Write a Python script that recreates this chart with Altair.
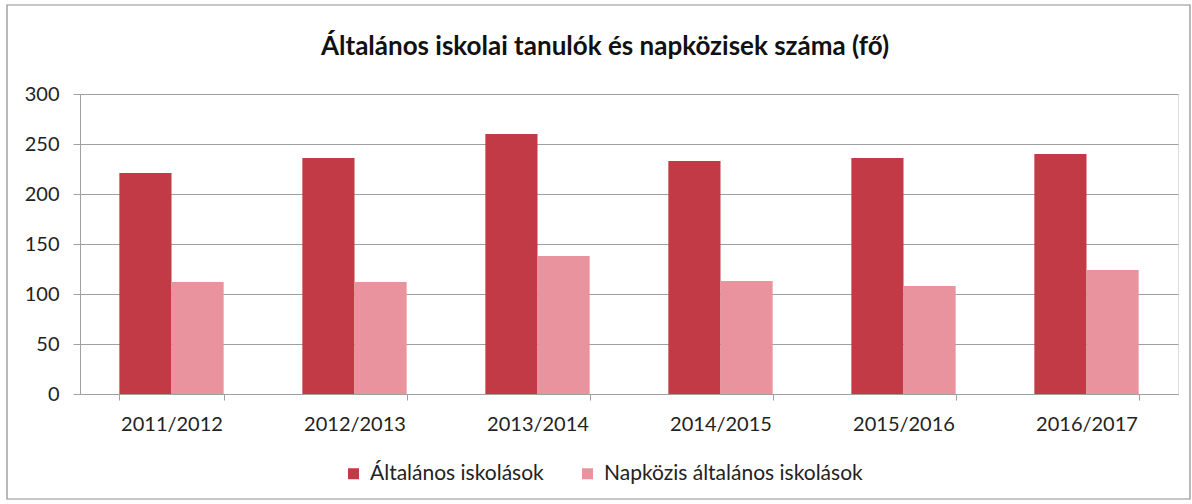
import altair as alt
import pandas as pd

seasons = ["2011/2012", "2012/2013", "2013/2014", "2014/2015", "2015/2016", "2016/2017"]
series = ["Általános iskolások", "Napközis általános iskolások"]
altalanos = [221, 236, 260, 233, 236, 240]
napkozis = [112, 112, 138, 113, 108, 124]
colors = ["#C23A45", "#E8939E"]
y_ticks = [0, 50, 100, 150, 200, 250, 300]
title_text = "Általános iskolai tanulók és napközisek száma (fő)"

rows = []
for s, a, n in zip(seasons, altalanos, napkozis):
    rows.append({"tanev": s, "sorozat": series[0], "fo": a})
    rows.append({"tanev": s, "sorozat": series[1], "fo": n})
df = pd.DataFrame(rows)

FONT = "Lato"
GRID = "#A0A0A0"

bars = alt.Chart(df).mark_bar().encode(
    x=alt.X("tanev:N", sort=seasons,
            scale=alt.Scale(paddingInner=0.43, paddingOuter=0.215),
            axis=alt.Axis(title=None, labelAngle=0, tickBand="extent", tickSize=6,
                          tickColor=GRID, domainColor=GRID, labelFont=FONT,
                          labelFontSize=20, labelColor="#222222", labelPadding=14)),
    xOffset=alt.XOffset("sorozat:N", sort=series,
                        scale=alt.Scale(paddingInner=0, paddingOuter=0)),
    y=alt.Y("fo:Q", scale=alt.Scale(domain=[0, 300]),
            axis=alt.Axis(title=None, values=y_ticks, tickSize=7, tickColor=GRID,
                          domainColor=GRID, gridColor=GRID, labelFont=FONT,
                          labelFontSize=20, labelColor="#222222", labelPadding=14)),
    color=alt.Color("sorozat:N", sort=series,
                    scale=alt.Scale(domain=series, range=colors),
                    legend=alt.Legend(title=None, orient="none", direction="horizontal",
                                      legendX=263, legendY=369, symbolType="square",
                                      symbolSize=121, symbolStrokeWidth=0,
                                      labelFont=FONT, labelFontSize=21,
                                      labelColor="#222222", labelOffset=6,
                                      columnPadding=33, labelLimit=400)),
)

frame = alt.Chart(alt.Data(values=[{}])).mark_rect(
    fill=None, stroke="#8C8C8C", strokeWidth=1.2, clip=False
).encode(
    x=alt.value(-73), x2=alt.value(1110), y=alt.value(-89), y2=alt.value(405)
)

title = alt.Chart(alt.Data(values=[{"t": title_text}])).mark_text(
    font=FONT, fontSize=26, fontWeight="bold", color="#111111",
    align="center", baseline="middle", clip=False
).encode(
    text="t:N", x=alt.value(525), y=alt.value(-47)
)

chart = alt.layer(frame, bars, title).properties(
    width=1098, height=300,
    autosize=alt.AutoSizeParams(type="none"),
    padding={"left": 80, "top": 94, "right": 14, "bottom": 110},
).configure_view(stroke=None).configure(background="white")

chart.save("out.html", embed_options={"renderer": "svg", "actions": False})
